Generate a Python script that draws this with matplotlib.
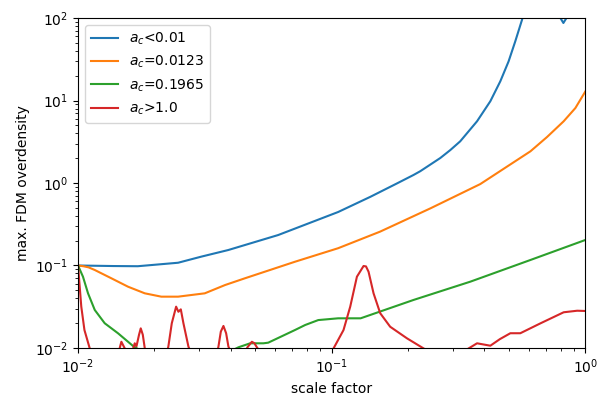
import numpy as np
import matplotlib
matplotlib.use('Agg')
import matplotlib.pyplot as plt

# values (scale factor, max overdensity)
a_blue = [0.01, 0.0138, 0.0172, 0.0248, 0.0306, 0.0391, 0.0615, 0.106, 0.142, 0.181,
          0.21, 0.2234, 0.268, 0.2935, 0.321, 0.374, 0.422, 0.462, 0.498, 0.529,
          0.5625, 0.6, 0.7, 0.78, 0.797, 0.819, 0.842, 0.86, 0.9, 1.0]
d_blue = [0.1, 0.0985, 0.098, 0.108, 0.128, 0.154, 0.234, 0.445, 0.68, 0.99,
          1.25, 1.39, 2.01, 2.51, 3.2, 5.6, 9.8, 17.1, 29.8, 52.0,
          95.0, 220.0, 500.0, 130.0, 100.0, 87.0, 100.0, 130.0, 400.0, 600.0]

a_orange = [0.01, 0.0105, 0.011, 0.01164, 0.01353, 0.01575, 0.01833, 0.0213, 0.0248, 0.0316,
            0.038, 0.0455, 0.0716, 0.106, 0.155, 0.245, 0.385, 0.607, 0.706, 0.821,
            0.913, 1.0]
d_orange = [0.1, 0.098, 0.095, 0.0882, 0.070, 0.0553, 0.046, 0.0419, 0.0419, 0.046,
            0.058, 0.070, 0.111, 0.162, 0.257, 0.493, 0.97, 2.42, 3.61, 5.6,
            8.1, 12.9]

a_green = [0.01, 0.01046, 0.01095, 0.01164, 0.01274, 0.01438, 0.01648, 0.0185, 0.025, 0.035,
           0.0429, 0.0477, 0.0538, 0.0562, 0.0716, 0.0786, 0.0885, 0.106, 0.13, 0.21,
           0.245, 0.352, 0.607, 1.0]
d_green = [0.1, 0.0731, 0.046, 0.0289, 0.01995, 0.01507, 0.01057, 0.0085, 0.0065, 0.0075,
           0.0102, 0.0114, 0.0114, 0.0116, 0.0165, 0.019, 0.0218, 0.0229, 0.0229, 0.0382,
           0.0445, 0.0637, 0.1166, 0.204]

a_red = [0.01, 0.0103, 0.0106, 0.01112, 0.0118, 0.0135, 0.01459, 0.01482, 0.01528, 0.0158,
         0.01648, 0.01673, 0.0170, 0.0174, 0.01767, 0.0180, 0.01833, 0.0195, 0.0215, 0.0227,
         0.02342, 0.02436, 0.02487, 0.02542, 0.02603, 0.02724, 0.030, 0.034, 0.03577, 0.03655,
         0.03743, 0.03835, 0.03916, 0.0425, 0.04655, 0.04845, 0.0496, 0.0507, 0.06, 0.09,
         0.1017, 0.1113, 0.1183, 0.1257, 0.1335, 0.1365, 0.1397, 0.1462, 0.1553, 0.170,
         0.198, 0.230, 0.28, 0.345, 0.374, 0.422, 0.46, 0.506, 0.554, 0.665,
         0.821, 0.928, 1.0]
d_red = [0.1, 0.0317, 0.0165, 0.0099, 0.006, 0.006, 0.0099, 0.0119, 0.0099, 0.007,
         0.0098, 0.0114, 0.0105, 0.0145, 0.0173, 0.0145, 0.0099, 0.005, 0.005, 0.0104,
         0.01995, 0.0317, 0.0275, 0.0294, 0.01995, 0.0104, 0.005, 0.005, 0.0104, 0.0158,
         0.0185, 0.0151, 0.0104, 0.006, 0.0102, 0.0119, 0.0114, 0.0102, 0.005, 0.005,
         0.0099, 0.0165, 0.0317, 0.0731, 0.0986, 0.0975, 0.0841, 0.046, 0.0264, 0.0181,
         0.0131, 0.0099, 0.007, 0.0098, 0.0114, 0.01066, 0.0128, 0.0151, 0.0151, 0.0199,
         0.0271, 0.0283, 0.0281]

labels = [r'$a_c$<0.01', r'$a_c$=0.0123', r'$a_c$=0.1965', r'$a_c$>1.0']

fig = plt.figure(figsize=(6.03, 3.95), dpi=100)
ax = fig.add_axes([0.1294, 0.119, 0.8414, 0.8354])
ax.plot(a_blue, d_blue, color='tab:blue', label=labels[0])
ax.plot(a_orange, d_orange, color='tab:orange', label=labels[1])
ax.plot(a_green, d_green, color='tab:green', label=labels[2])
ax.plot(a_red, d_red, color='tab:red', label=labels[3])
ax.set_xscale('log')
ax.set_yscale('log')
ax.set_xlim(1e-2, 1)
ax.set_ylim(1e-2, 1e2)
ax.set_xlabel('scale factor')
ax.set_ylabel('max. FDM overdensity')
ax.legend(loc='upper left')
fig.savefig('out.png', dpi=100)
